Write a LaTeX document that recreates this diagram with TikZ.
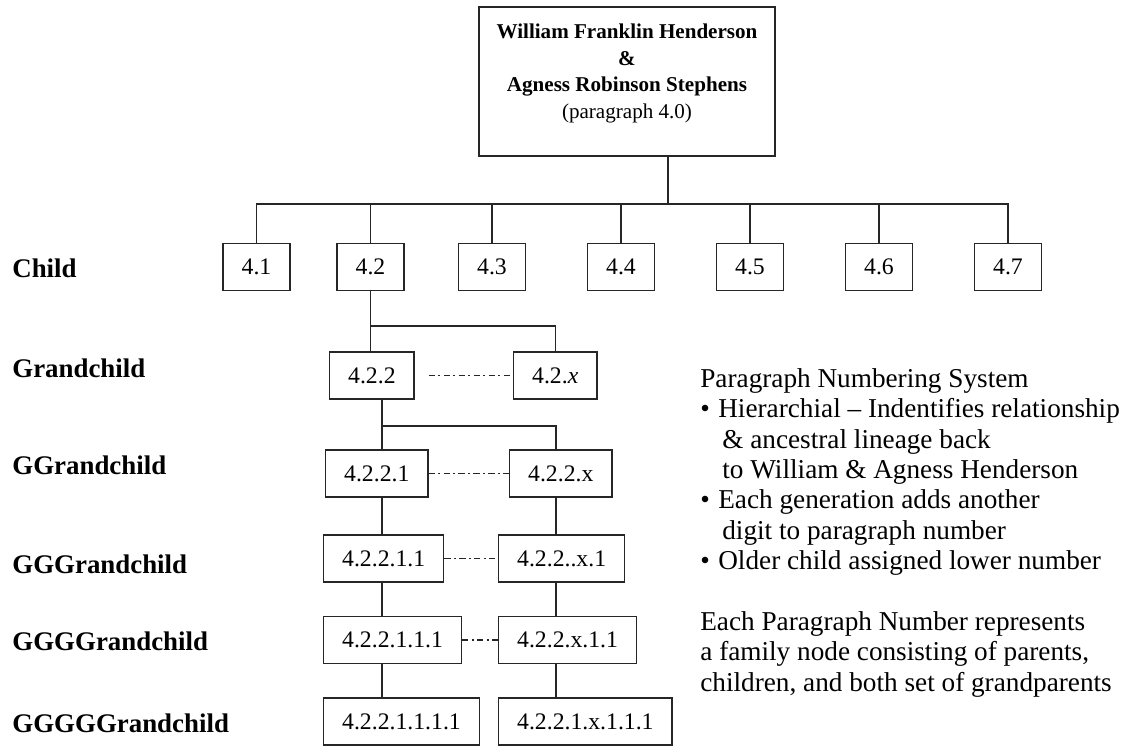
\documentclass[tikz,border=0pt]{standalone}
\usepackage{fontspec}
\setmainfont{Liberation Serif}

\tikzset{
    numbox/.style={draw=black!85, line width=0.8pt, inner xsep=0.37cm, inner ysep=0pt,
        minimum height=0.94cm, font=\fontsize{13.5}{16}\selectfont},
    genlabel/.style={anchor=base west, inner sep=0pt, font=\fontsize{15.3}{18}\selectfont\bfseries},
    tree/.style={draw=black!85, line width=0.8pt},
    sibling/.style={draw=black!85, line width=0.8pt, dash pattern=on 3.5pt off 2pt on 1pt off 2pt},
}

\begin{document}
\begin{tikzpicture}[x=0.02cm, y=-0.02cm]
    \useasboundingbox (0,0) rectangle (1130,747);

    % Founding couple
    \node[draw=black!85, line width=0.8pt, inner sep=0pt] (top) at (627,81.5)
        {\parbox[c][2.98cm][t]{5.92cm}{\vspace*{0.33cm}\centering\fontsize{12}{15.3}\selectfont
        \textbf{William Franklin Henderson}\\ \textbf{\&}\\ \textbf{Agness Robinson Stephens}\\ (paragraph 4.0)}};

    % Children
    \foreach \i/\x in {1/256.5, 2/370.5, 3/492, 4/621, 5/750, 6/879, 7/1008}
        \node[numbox] (c\i) at (\x,267) {4.\i};

    \coordinate (drop) at ([xshift=0.82cm]top.south);
    \coordinate (cbus) at (0,204);
    \draw[tree] (drop) -- (drop |- cbus);
    \draw[tree] (c1.north) |- (c7.north |- cbus) -- (c7.north);
    \foreach \i in {2,...,6}
        \draw[tree] (c\i.north) -- (c\i.north |- cbus);

    % Grandchildren
    \node[numbox, anchor=west] (g1) at (329,375.5) {4.2.2};
    \node[numbox, anchor=west] (g2) at (513,375.5) {4.2.\textit{x}};
    \coordinate (gbus) at (0,326);
    \draw[tree] (c2.south) -- (c2.south |- g1.north);
    \draw[tree] (c2.south |- gbus) -| (g2.north);

    % Later generations
    \node[numbox, anchor=west] (gg1) at (325,473.5) {4.2.2.1};
    \node[numbox, anchor=west] (gg2) at (509,473.5) {4.2.2.x};
    \node[numbox, anchor=west] (ggg1) at (323,558.5) {4.2.2.1.1};
    \node[numbox, anchor=west] (ggg2) at (498,558.5) {4.2.2..x.1};
    \node[numbox, anchor=west] (gggg1) at (323,640) {4.2.2.1.1.1};
    \node[numbox, anchor=west] (gggg2) at (498,640) {4.2.2.x.1.1};
    \node[numbox, anchor=west] (ggggg1) at (323,721.5) {4.2.2.1.1.1.1};
    \node[numbox, anchor=west] (ggggg2) at (498,721.5) {4.2.2.1.x.1.1.1};

    \coordinate (colA) at (382,0);
    \coordinate (colB) at (556,0);
    \coordinate (ggbus) at (0,426);
    \draw[tree] (g1.south -| colA) -- (gg1.north -| colA);
    \draw[tree] (colA |- ggbus) -| (gg2.north -| colB);
    \foreach \a/\b in {gg/ggg, ggg/gggg, gggg/ggggg} {
        \draw[tree] (\a1.south -| colA) -- (\b1.north -| colA);
        \draw[tree] (\a2.south -| colB) -- (\b2.north -| colB);
    }

    % Siblings
    \draw[sibling] ([xshift=0.28cm]g1.east) -- (g2.west);
    \foreach \a in {gg, ggg, gggg}
        \draw[sibling] (\a1.east) -- (\a2.west);

    % Generation labels
    \foreach \t/\y [count=\k] in {Child/277, Grandchild/377, GGrandchild/474,
        GGGrandchild/573, GGGGrandchild/650, GGGGGrandchild/732}
        \node[genlabel] (gen\k) at (12,\y) {\t};

    % Notes
    \node[anchor=north west, inner sep=0pt, align=left, font=\fontsize{15.5}{17.3}\selectfont] (notes) at (700,368)
        {Paragraph Numbering System\\
        \makebox[0.36cm][l]{\textbullet}Hierarchial -- Indentifies relationship\\
        \hspace*{0.44cm}\& ancestral lineage back\\
        \hspace*{0.44cm}to William \& Agness Henderson\\
        \makebox[0.36cm][l]{\textbullet}Each generation adds another\\
        \hspace*{0.44cm}digit to paragraph number\\
        \makebox[0.36cm][l]{\textbullet}Older child assigned lower number\\[17.3pt]
        Each Paragraph Number represents\\
        a family node consisting of parents,\\
        children, and both set of grandparents};
\end{tikzpicture}
\end{document}
